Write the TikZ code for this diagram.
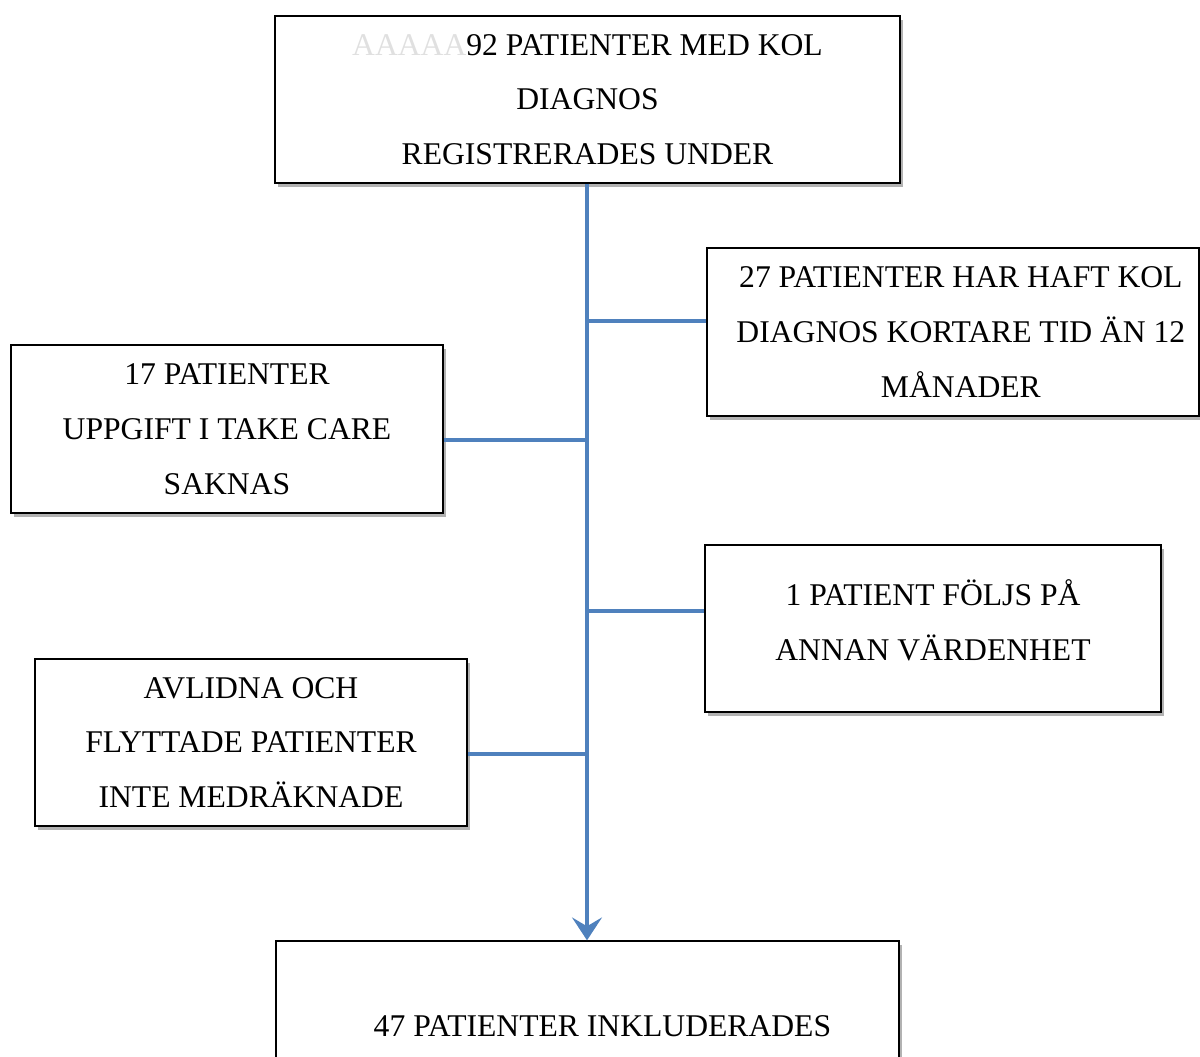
\documentclass[tikz,border=0pt]{standalone}
\usepackage{fontspec}
\setmainfont{Liberation Serif}
\usetikzlibrary{arrows.meta,shadows}
\definecolor{flowblue}{HTML}{4F81BD}
\begin{document}
\begin{tikzpicture}[x=0.02cm,y=-0.02cm,
  box/.style={draw=black, line width=0.8pt, fill=white, align=center, inner sep=0pt,
    font=\fontsize{18}{31.2}\selectfont,
    drop shadow={shadow xshift=1.8pt, shadow yshift=-2.2pt, fill=black, opacity=0.3}},
  link/.style={draw=flowblue, line width=2.3pt}]
\useasboundingbox (0,0) rectangle (1200,1056);
\clip (0,0) rectangle (1200,1056);
\node[box, minimum width=12.5cm, minimum height=3.34cm] (top) at (587.5,99.5)
  {{\color{black!12}AAAAA}92 PATIENTER MED KOL\\DIAGNOS\\REGISTRERADES UNDER};
\node[box, minimum width=9.84cm, minimum height=3.36cm] (r1) at (953,332)
  {\hspace*{9pt}27 PATIENTER HAR HAFT KOL\\\hspace*{9pt}DIAGNOS KORTARE TID ÄN 12\\\hspace*{9pt}MÅNADER};
\node[box, minimum width=8.64cm, minimum height=3.36cm] (l1) at (227,429)
  {17 PATIENTER\\UPPGIFT I TAKE CARE\\SAKNAS};
\node[box, minimum width=9.12cm, minimum height=3.34cm, text depth=10pt] (r2) at (933,628.5)
  {1 PATIENT FÖLJS PÅ\\ANNAN VÄRDENHET};
\node[box, minimum width=8.64cm, minimum height=3.34cm] (l2) at (251,742.5)
  {AVLIDNA OCH\\FLYTTADE PATIENTER\\INTE MEDRÄKNADE};
\node[box, minimum width=12.46cm, minimum height=3.4cm] (bot) at (587.5,1026)
  {\hspace*{17pt}47 PATIENTER INKLUDERADES};
\coordinate (j1) at (587,321);
\coordinate (j2) at (587,440);
\coordinate (j3) at (587,611);
\coordinate (j4) at (587,754);
\draw[link] (j1) -- (j1 -| r1.west);
\draw[link] (j2) -- (j2 -| l1.east);
\draw[link] (j3) -- (j3 -| r2.west);
\draw[link] (j4) -- (j4 -| l2.east);
\draw[link, -{Stealth[length=13pt, width=17pt, inset=5pt]}] (top.south -| j1) -- (bot.north -| j1);
\end{tikzpicture}
\end{document}
